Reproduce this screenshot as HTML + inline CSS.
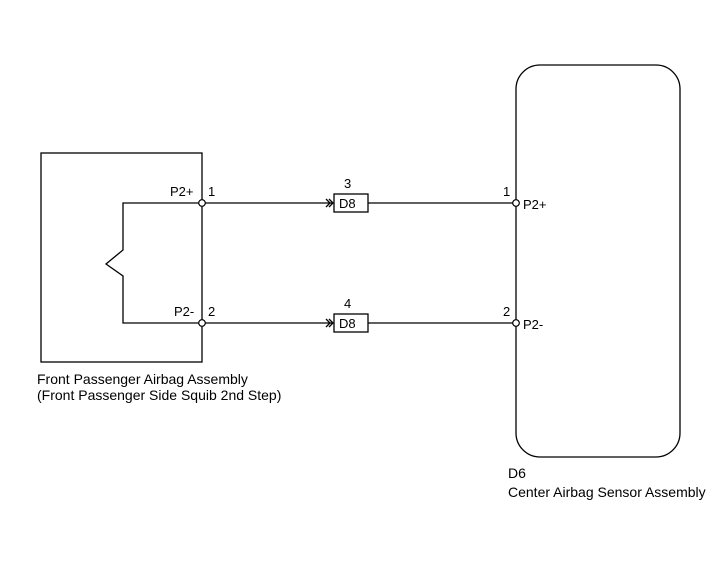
<html><body style="margin:0;background:#fff">
<svg width="713" height="581" xmlns="http://www.w3.org/2000/svg" style="font-family:'Liberation Sans',Arial,sans-serif;font-size:13px">
<g fill="none" stroke="#000" stroke-width="1.3">
<rect x="41" y="153" width="161" height="209"/>
<rect x="516" y="65" width="164" height="392" rx="24"/>
<polyline points="202,203 123,203 123,250 106,264 123,276 123,323 202,323"/>
<line x1="202" y1="203" x2="332" y2="203"/>
<line x1="202" y1="323" x2="332" y2="323"/>
<line x1="368" y1="203" x2="516" y2="203"/>
<line x1="368" y1="323" x2="516" y2="323"/>
<polyline points="326,199 330,203 326,207"/><polyline points="329,199 333,203 329,207"/>
<polyline points="326,319 330,323 326,327"/><polyline points="329,319 333,323 329,327"/>
<rect x="334" y="194" width="34" height="18"/>
<rect x="334" y="314" width="34" height="18"/>
</g>
<g fill="#fff" stroke="#000" stroke-width="1.2">
<circle cx="202" cy="203" r="3.3"/><circle cx="202" cy="323" r="3.3"/>
<circle cx="516" cy="203" r="3.3"/><circle cx="516" cy="323" r="3.3"/>
</g>
<g fill="#000">
<text x="170" y="196">P2+</text><text x="208" y="196">1</text>
<text x="174" y="316">P2-</text><text x="208" y="316">2</text>
<text x="344" y="188">3</text><text x="339" y="208">D8</text>
<text x="344" y="308">4</text><text x="339" y="328">D8</text>
<text x="503" y="196">1</text><text x="523" y="209">P2+</text>
<text x="503" y="316">2</text><text x="523" y="329">P2-</text>
<g style="font-size:14px">
<text x="37" y="384">Front Passenger Airbag Assembly</text>
<text x="37" y="400">(Front Passenger Side Squib 2nd Step)</text>
<text x="508" y="478">D6</text>
<text x="508" y="497">Center Airbag Sensor Assembly</text>
</g>
</g>
</svg>
</body></html>
